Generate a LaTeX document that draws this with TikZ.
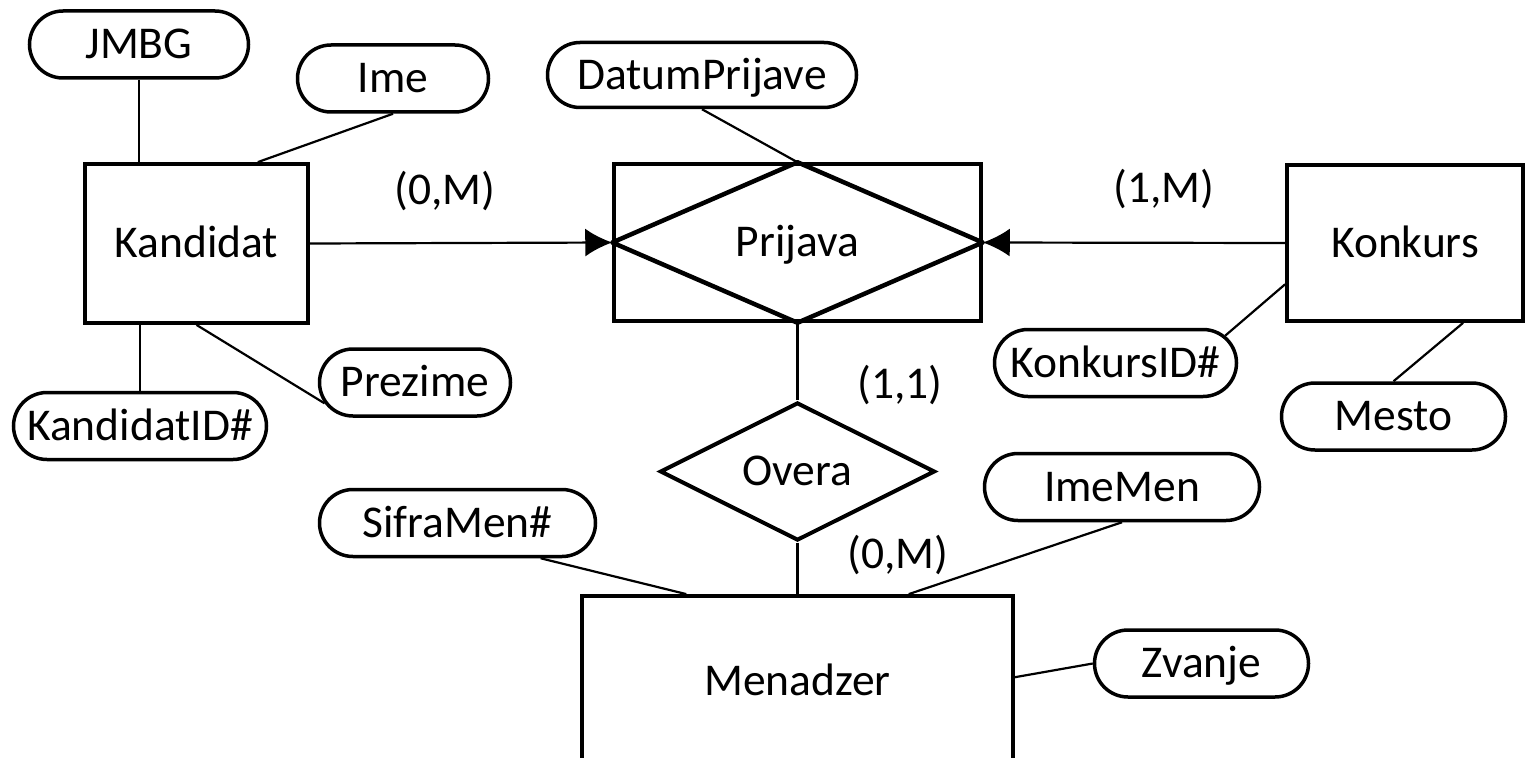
\documentclass[tikz,border=0pt]{standalone}
\usepackage{fontspec}
\setmainfont{Carlito}
\usetikzlibrary{shapes.misc,shapes.geometric,arrows.meta}

\begin{document}
\begin{tikzpicture}[x=1pt,y=-1pt,
  every node/.style={font=\fontsize{45.5}{54}\selectfont, text height=28.5pt, text depth=0pt},
  entity/.style={draw, rectangle, line width=3.8pt, inner sep=0pt},
  attr/.style={draw, rounded rectangle, line width=3.5pt, inner sep=0pt, minimum height=67pt},
  rel/.style={draw, diamond, line width=4pt, inner sep=0pt},
  link/.style={line width=2.2pt},
  arr/.style={link, -{Latex[length=27pt,width=28pt]}},
  card/.style={inner sep=0pt}
]
\clip (0,0) rectangle (1530,757);
\fill[white] (0,0) rectangle (1530,757);

% entities
\node[entity, minimum width=223pt, minimum height=159pt] (kand) at (196.5,243.5) {Kandidat};
\node[entity, minimum width=236pt, minimum height=156pt] (konk) at (1405,243) {Konkurs};
\node[entity, minimum width=431pt, minimum height=170pt] (men) at (797.5,681) {Menadzer};

% associative entity Prijava: box with a diamond inside
\node[entity, line width=3.5pt, minimum width=367pt, minimum height=157pt] (prij) at (797.5,242.5) {Prijava};
\draw[line width=4.5pt, line join=round] (prij.west) -- (prij.north) -- (prij.east) -- (prij.south) -- cycle;

% relationship
\node[rel, minimum width=275pt, minimum height=133pt] (ov) at (797.5,471.5) {Overa};

% attributes
\node[attr, minimum width=219pt] (jmbg) at (139,44.5) {JMBG};
\node[attr, minimum width=191pt] (ime) at (393,78.5) {Ime};
\node[attr, minimum width=191pt] (prez) at (415,382.5) {Prezime};
\node[attr, minimum width=253pt] (kid) at (140,426) {KandidatID\#};
\node[attr, minimum width=309pt, minimum height=65pt] (dat) at (702,75) {DatumPrijave};
\node[attr, minimum width=242pt] (konkid) at (1115.5,363) {KonkursID\#};
\node[attr, minimum width=224pt] (mesto) at (1393.5,416.5) {Mesto};
\node[attr, minimum width=276pt] (sifra) at (457.5,523) {SifraMen\#};
\node[attr, minimum width=275pt] (imemen) at (1122,487) {ImeMen};
\node[attr, minimum width=214pt] (zv) at (1201.5,663.5) {Zvanje};

% cardinalities
\node[card] (c1) at (445,190) {(0,M)};
\node[card] (c2) at (1164,188) {(1,M)};
\node[card] (c3) at (900,384) {(1,1)};
\node[card] (c4) at (898,554) {(0,M)};

% connectors
\draw[link] (jmbg.south) -- (jmbg.south |- kand.north);
\draw[link] (ime.south) -- (kand.53);
\draw[link] (kand.south) -- (prez.193);
\draw[link] (kid.north) -- (kid.north |- kand.south);
\draw[arr] (kand.east) -- (prij.west);
\draw[arr] (konk.west) -- (prij.east);
\draw[link] (dat.south) -- (prij.north);
\draw[link] (konk.199) -- (konkid.14);
\draw[link] (konk.306) -- (mesto.north);
\draw[link] (prij.south) -- (ov.north);
\draw[link] (ov.south) -- (men.north);
\draw[link] (sifra.337) -- (men.142);
\draw[link] (imemen.south) -- (men.38);
\draw[link] (men.1) -- (zv.west);
\end{tikzpicture}
\end{document}
